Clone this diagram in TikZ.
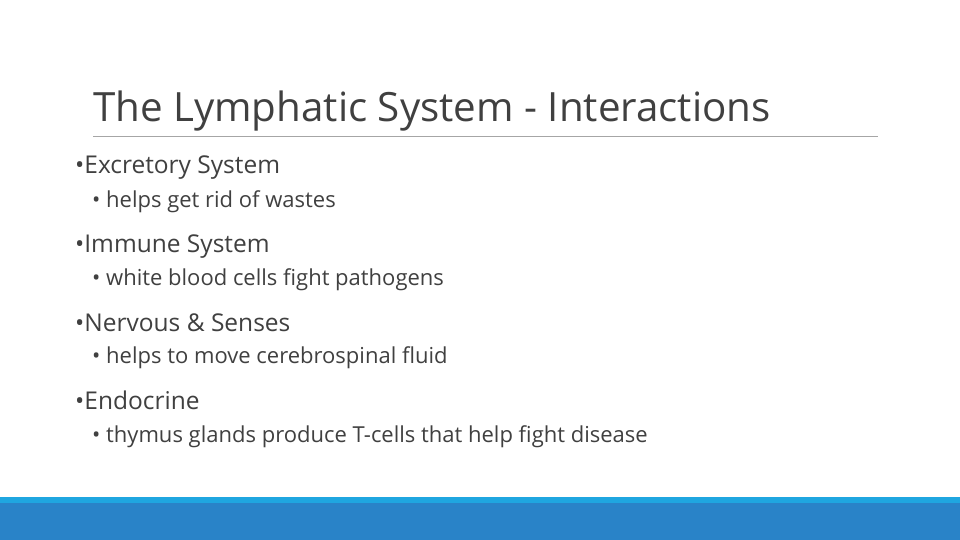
\documentclass[tikz,border=0pt]{standalone}
\usepackage{fontspec}
\setmainfont{Open Sans}
\definecolor{titlegray}{RGB}{64,64,64}
\definecolor{barlight}{RGB}{31,166,224}
\definecolor{bardark}{RGB}{41,131,200}
\begin{document}
\begin{tikzpicture}[x=1pt,y=-1pt,
  txt/.style={anchor=base west,inner sep=0pt,text=titlegray},
  lone/.style={txt,font=\fontsize{24.5}{28}\selectfont},
  ltwo/.style={txt,font=\fontsize{22}{24}\selectfont}]
\useasboundingbox (0,0) rectangle (960,540);
\fill[white] (0,0) rectangle (960,540);
\node[txt,font=\fontsize{40.3}{46}\selectfont] (title) at (93,122) {The Lymphatic System - Interactions};
\draw[gray!70,line width=0.8pt] (93,136) -- (878,136);
\node[lone] (a) at (75,174) {•Excretory System};
\node[ltwo] (a1) at (92,207) {• helps get rid of wastes};
\node[lone] (b) at (75,252) {•Immune System};
\node[ltwo] (b1) at (92,285) {• white blood cells fight pathogens};
\node[lone] (c) at (75,331) {•Nervous \& Senses};
\node[ltwo] (c1) at (92,363) {• helps to move cerebrospinal fluid};
\node[lone] (d) at (75,409) {•Endocrine};
\node[ltwo] (d1) at (92,442) {• thymus glands produce T-cells that help fight disease};
\fill[barlight] (0,497) rectangle (960,503);
\fill[bardark] (0,503) rectangle (960,540);
\end{tikzpicture}
\end{document}
